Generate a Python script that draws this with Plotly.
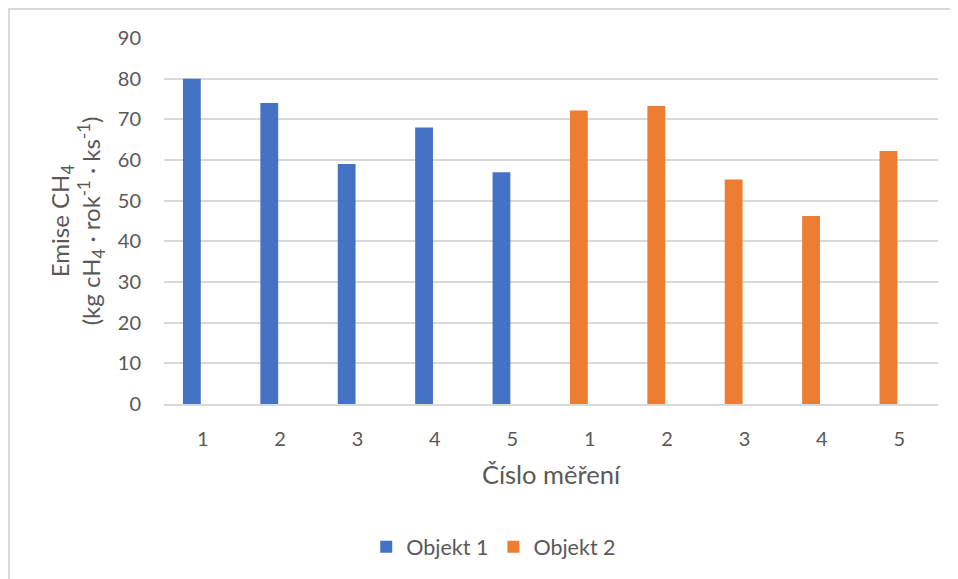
import plotly.graph_objects as go

categories = ["1", "2", "3", "4", "5", "1", "2", "3", "4", "5"]
objekt1 = [80, 74, 59, 68, 57, None, None, None, None, None]
objekt2 = [None, None, None, None, None, 72.2, 73.3, 55.2, 46.2, 62.2]
series_names = ["Objekt 1", "Objekt 2"]
colors = ["#4472C4", "#ED7D31"]
y_ticks = [0, 10, 20, 30, 40, 50, 60, 70, 80, 90]

positions = list(range(len(categories)))
FONT = "Lato"
GREY = "#595959"

fig = go.Figure()
for name, vals, col in zip(series_names, [objekt1, objekt2], colors):
    fig.add_trace(go.Bar(
        x=positions, y=vals, name=name,
        marker=dict(color=col, line=dict(width=0)),
        offset=-0.255, width=0.23,
    ))

# page body has an 8px margin, so the figure is sized to fit the window
OFF = 8
W, H = 958 - OFF, 579 - OFF
L, R, T, B = 164 - OFF, 20, 38 - OFF, 175
pw = W - L - R
ph = H - T - B

fig.update_layout(
    width=W, height=H,
    margin=dict(l=L, r=R, t=T, b=B),
    barmode="overlay",
    plot_bgcolor="white", paper_bgcolor="white",
    font=dict(family=FONT, color=GREY, size=20),
    showlegend=True,
    legend=dict(orientation="h", x=0.426, xanchor="center",
                y=-0.39, yanchor="middle",
                font=dict(size=21.5, color=GREY),
                itemwidth=30, traceorder="normal"),
    xaxis=dict(
        range=[-0.5, len(categories) - 0.5],
        tickvals=positions, ticktext=categories,
        showgrid=False, zeroline=False,
        showline=True, linecolor="#d9d9d9", linewidth=1.5,
        ticks="", ticklabelstandoff=16,
        tickfont=dict(size=20, color=GREY),
        title=dict(text="Číslo měření", font=dict(size=25.5, color=GREY), standoff=17),
        fixedrange=True,
    ),
    yaxis=dict(
        range=[0, 90], tickvals=y_ticks,
        showgrid=True, gridcolor="#d9d9d9", gridwidth=1.5,
        zeroline=False, showline=False,
        ticks="", ticklabelstandoff=22,
        tickfont=dict(size=20, color=GREY),
        title=dict(text="Emise CH<sub>4</sub><br>(kg cH<sub>4</sub> · rok<sup>-1</sup> · ks<sup>-1</sup>)",
                   font=dict(size=24, color=GREY), standoff=10),
        fixedrange=True,
    ),
)

# light grey chart-area border along the figure's top and left edges
fig.add_shape(type="rect", xref="paper", yref="paper",
              x0=(1 - L) / pw, x1=(W + 30 - L) / pw,
              y0=(T + ph - (H + 30)) / ph, y1=(T + ph - 1) / ph,
              line=dict(color="#d9d9d9", width=2), fillcolor="rgba(0,0,0,0)",
              layer="below")

fig.write_html("out.html")
